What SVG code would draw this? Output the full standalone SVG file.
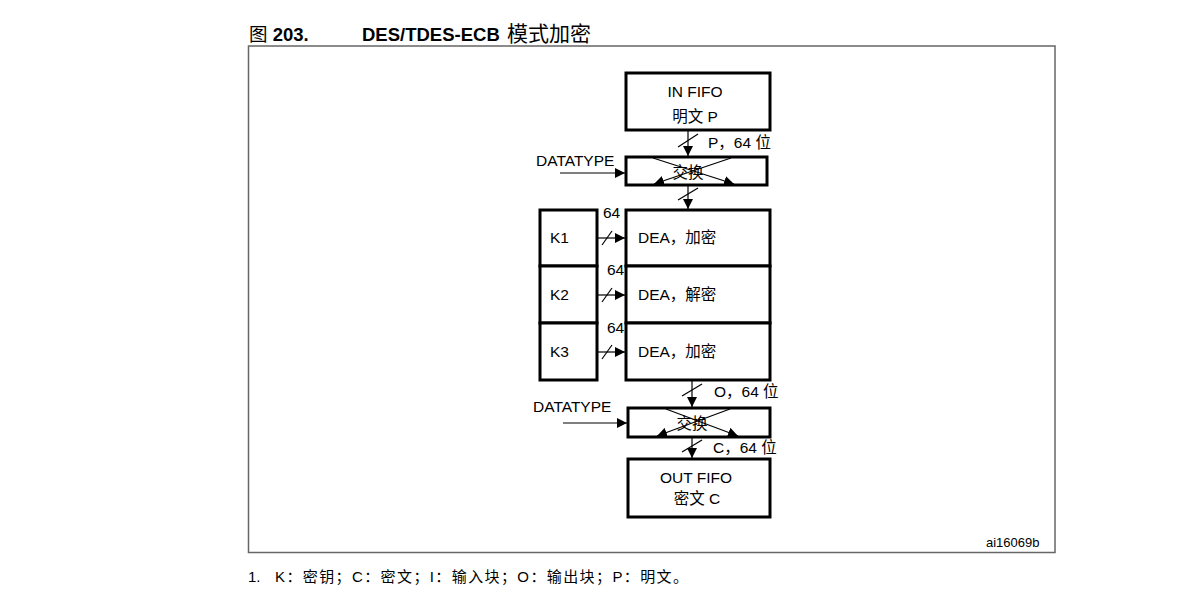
<svg xmlns="http://www.w3.org/2000/svg" width="1189" height="602" viewBox="0 0 1189 602">
<style>
text{font-family:"Liberation Sans","Noto Sans CJK SC",sans-serif;font-size:15.5px;fill:#000}
.c{text-anchor:middle}
.box{fill:#fff;stroke:#000;stroke-width:3}
.ln{stroke:#000;stroke-width:1.2;fill:none}
.arr{stroke:#000;stroke-width:1.2;fill:none;marker-end:url(#ah)}
.frame{fill:none;stroke:#666;stroke-width:1.5}
.b{font-weight:bold}
.t{font-size:18.5px}
.small{font-size:13px}
.note{font-size:15px}
</style>
<defs>
<marker id="ah" viewBox="0 0 10 10" refX="10" refY="5" markerWidth="10" markerHeight="10" markerUnits="userSpaceOnUse" orient="auto"><path d="M0,0 L10,5 L0,10 z" fill="#000"/></marker>
</defs>
<rect width="1189" height="602" fill="#fff"/>
<g id="title">
<text class="t" x="249" y="41">图 <tspan class="b">203.</tspan></text>
<text class="t b" x="362" y="41">DES/TDES-ECB</text>
<text x="507" y="41" style="font-size:21px">模式加密</text>
</g>
<rect class="frame" x="248.5" y="46" width="806.5" height="506.5"/>
<g id="in-fifo">
<rect class="box" x="626" y="73" width="144" height="57"/>
<text class="c" x="695" y="97">IN FIFO</text>
<text class="c" x="695" y="122">明文 P</text>
</g>
<g id="swap1">
<rect class="box" x="626" y="157" width="141" height="28"/>
<text class="c" x="688" y="178">交换</text>
</g>
<g id="keys">
<rect class="box" x="540" y="210" width="57" height="56"/>
<rect class="box" x="540" y="266" width="57" height="57"/>
<rect class="box" x="540" y="323" width="57" height="57"/>
<text x="550" y="243">K1</text>
<text x="550" y="300">K2</text>
<text x="550" y="357">K3</text>
</g>
<g id="dea">
<rect class="box" x="626" y="210" width="144" height="56"/>
<rect class="box" x="626" y="266" width="144" height="57"/>
<rect class="box" x="626" y="323" width="144" height="57"/>
<text x="638" y="243">DEA，加密</text>
<text x="638" y="300">DEA，解密</text>
<text x="638" y="357">DEA，加密</text>
</g>
<g id="swap2">
<rect class="box" x="628" y="408" width="142" height="29"/>
<text class="c" x="692" y="429">交换</text>
</g>
<g id="out-fifo">
<rect class="box" x="628" y="459" width="142" height="58"/>
<text class="c" x="696" y="483">OUT FIFO</text>
<text class="c" x="697" y="504">密文 C</text>
</g>
<g id="connectors">
<path class="arr" d="M688,131 L688,156"/>
<path class="ln" d="M678,147 L698,134"/>
<path class="arr" d="M688,186 L688,209"/>
<path class="ln" d="M678,200 L698,188"/>
<path class="arr" d="M692,380 L692,407"/>
<path class="ln" d="M682,396 L702,384"/>
<path class="arr" d="M692,438 L692,458"/>
<path class="ln" d="M682,452 L702,440"/>
<path class="arr" d="M560,173 L625,173"/>
<path class="arr" d="M563,423 L627,423"/>
<path class="arr" d="M598,238 L625,238"/>
<path class="ln" d="M602,245 L612,231"/>
<path class="arr" d="M598,295 L625,295"/>
<path class="ln" d="M602,302 L612,288"/>
<path class="arr" d="M598,352 L625,352"/>
<path class="ln" d="M602,359 L612,345"/>
<path class="arr" d="M653,158 L734,184"/>
<path class="arr" d="M731,158 L654,184"/>
<path class="arr" d="M666,409 L738,436"/>
<path class="arr" d="M730,409 L657,436"/>
</g>
<g id="labels">
<text x="708" y="148">P，64 位</text>
<text x="536" y="166">DATATYPE</text>
<text x="603" y="218">64</text>
<text x="607" y="275">64</text>
<text x="607" y="333">64</text>
<text x="714" y="397">O，64 位</text>
<text x="533" y="412">DATATYPE</text>
<text x="713" y="453">C，64 位</text>
<text class="small" x="986" y="547">ai16069b</text>
</g>
<g id="footnote">
<text class="note" x="248" y="582">1.</text>
<text class="note" x="275" y="582" textLength="413" lengthAdjust="spacing">K：密钥；C：密文；I：输入块；O：输出块；P：明文。</text>
</g>
</svg>
